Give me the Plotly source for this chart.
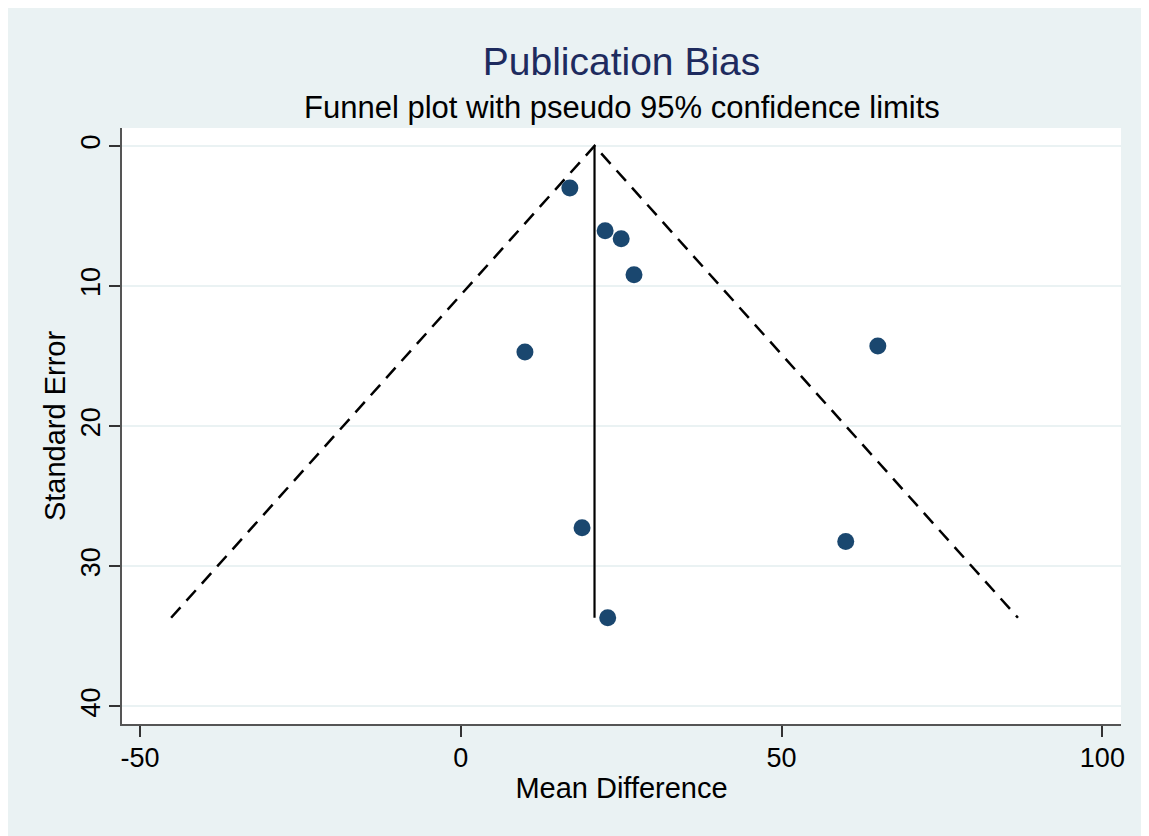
import numpy as np
import plotly.graph_objects as go

# ---- data ----
mean_diff = [17.0, 22.5, 25.0, 27.0, 10.0, 65.0, 18.9, 60.0, 22.9]
std_err = [3.0, 6.06, 6.63, 9.2, 14.7, 14.27, 27.25, 28.22, 33.67]
x_ticks = [-50, 0, 50, 100]
y_ticks = [0, 10, 20, 30, 40]

# fixed-effect pooled estimate and pseudo 95% limits
md = np.array(mean_diff)
se = np.array(std_err)
w = 1 / se**2
theta = float((w * md).sum() / w.sum())
se_max = float(se.max())

FONT = "Liberation Sans, Arial, sans-serif"
BG = "#EAF2F3"

fig = go.Figure()

# funnel (pseudo 95% CI limits)
fig.add_trace(go.Scatter(
    x=[theta - 1.96 * se_max, theta, theta + 1.96 * se_max],
    y=[se_max, 0, se_max],
    mode="lines",
    line=dict(color="black", width=2.5, dash="14px,9px"),
    hoverinfo="skip", showlegend=False,
))
# pooled estimate line
fig.add_trace(go.Scatter(
    x=[theta, theta], y=[0, se_max],
    mode="lines",
    line=dict(color="black", width=2.2),
    hoverinfo="skip", showlegend=False,
))
# studies
fig.add_trace(go.Scatter(
    x=mean_diff, y=std_err, mode="markers",
    marker=dict(color="#1A476F", size=17, line=dict(width=0)),
    showlegend=False,
))

OFF = 8  # page body margin
W, H = 1149 - OFF, 836 - OFF
L, R, T, B = 122 - OFF, 28, 128 - OFF, 112
ph = H - T - B

def px_y(p):
    # p: pixel y in the window
    return (H - B - (p - OFF)) / ph

fig.update_layout(
    width=W, height=H,
    margin=dict(l=L, r=R, t=T, b=B),
    paper_bgcolor=BG, plot_bgcolor="white",
    font=dict(family=FONT, color="black", size=27),
    title=dict(text="Publication Bias", x=0.5, xref="paper",
               y=1 - (61 - OFF) / H, yref="container", yanchor="middle",
               font=dict(size=39, color="#1E2B5E", family=FONT)),
    showlegend=False,
    annotations=[dict(
        text="Funnel plot with pseudo 95% confidence limits",
        xref="paper", yref="paper", x=0.5, y=px_y(108),
        xanchor="center", yanchor="middle", showarrow=False,
        font=dict(size=31, color="black", family=FONT),
    )],
)

fig.update_xaxes(
    range=[-52.8, 102.9], tickvals=x_ticks, ticktext=[str(v) for v in x_ticks],
    showgrid=False, zeroline=False,
    showline=True, linecolor="#555555", linewidth=2,
    ticks="outside", ticklen=11, tickwidth=1.5, tickcolor="#333333",
    ticklabelstandoff=-2,
    title=dict(text="Mean Difference", standoff=5, font=dict(size=29)),
)
fig.update_yaxes(
    range=[41.25, -1.28], tickvals=y_ticks, ticktext=[str(v) for v in y_ticks],
    showgrid=True, gridcolor=BG, gridwidth=1.5, zeroline=False,
    showline=True, linecolor="#555555", linewidth=2,
    ticks="outside", ticklen=11, tickwidth=1.5, tickcolor="#333333",
    tickangle=-90, ticklabelstandoff=-2,
    title=dict(text="Standard Error", standoff=2, font=dict(size=29)),
)

fig.write_html("out.html")
